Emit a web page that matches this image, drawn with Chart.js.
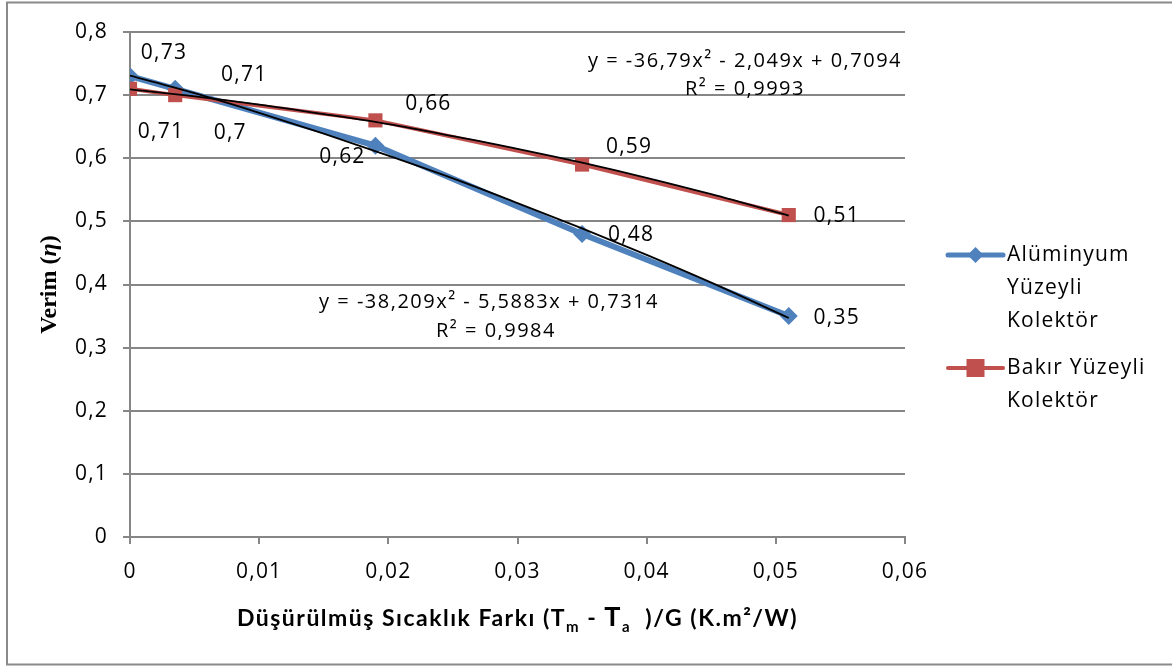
<!DOCTYPE html>
<html>
<head>
<meta charset="utf-8">
<script src="https://cdn.jsdelivr.net/npm/chart.js@4.4.1/dist/chart.umd.min.js"></script>
<style>
  html, body { margin: 0; padding: 0; background: #ffffff; }
  #wrap { width: 1172px; height: 666px; position: relative; }
  canvas { display: block; }
</style>
</head>
<body>
<div id="wrap"><canvas id="c" width="1172" height="666"></canvas></div>
<script>
// ---- data ----
const xValues = [0, 0.0035, 0.019, 0.035, 0.051];
const aluminyumY = [0.73, 0.71, 0.62, 0.48, 0.35];
const bakirY = [0.71, 0.70, 0.66, 0.59, 0.51];

const trendX = [0, 0.005, 0.01, 0.015, 0.02, 0.025, 0.03, 0.035, 0.04, 0.045, 0.051];
const aluminyumTrendY = [0.731, 0.703, 0.672, 0.639, 0.604, 0.568, 0.529, 0.489, 0.447, 0.403, 0.347];
const bakirTrendY = [0.709, 0.698, 0.685, 0.670, 0.654, 0.635, 0.615, 0.593, 0.569, 0.543, 0.509];

const seriesNames = [["Alüminyum", "Yüzeyli", "Kolektör"], ["Bakır Yüzeyli", "Kolektör"]];
const aluminyumEquation = ["y = -38,209x² - 5,5883x + 0,7314", "R² = 0,9984"];
const bakirEquation = ["y = -36,79x² - 2,049x + 0,7094", "R² = 0,9993"];

const xTickMin = 0, xTickMax = 0.06, xTickStep = 0.01;
const yTickMin = 0, yTickMax = 0.8, yTickStep = 0.1;

// ---- styling ----
const BLUE = '#4F81BD';
const RED = '#C0504D';
const GRID = '#868686';
const FONT = '"Open Sans", Lato, sans-serif';
const TFONT = 'Lato, "Open Sans", sans-serif';
const SPACING = '1.2px';
const fmt = v => String(Math.round(v * 1000) / 1000).replace('.', ',');

// label offsets (px) relative to each point, per series
const alLabelOffsets = [[33, -23], [68, -14], [-34, 11], [48, 1], [47, 2]];
const cuLabelOffsets = [[30, 43], [54, 38], [52, -16], [46, -18], [47, 1]];

const toPts = (xs, ys) => xs.map((x, i) => ({ x: x, y: ys[i] }));

const decorPlugin = {
  id: 'decor',
  beforeDraw(chart) {
    const ctx = chart.ctx;
    ctx.letterSpacing = SPACING;
    ctx.save();
    ctx.strokeStyle = '#8a8a8a';
    ctx.lineWidth = 2;
    ctx.strokeRect(7, 2.5, 1200, 662);
    ctx.restore();
  },
  afterDraw(chart) {
    const ctx = chart.ctx;
    const xs = chart.scales.x, ys = chart.scales.y;
    const area = chart.chartArea;
    ctx.save();
    ctx.fillStyle = '#000';
    ctx.textAlign = 'center';
    ctx.textBaseline = 'middle';
    ctx.letterSpacing = SPACING;
    ctx.font = '21px ' + FONT;
    // data labels
    const drawLabels = (ysArr, offs) => {
      ysArr.forEach((v, i) => {
        const px = xs.getPixelForValue(xValues[i]);
        const py = ys.getPixelForValue(v);
        ctx.fillText(fmt(v), px + offs[i][0] + 1, py + offs[i][1]);
      });
    };
    drawLabels(aluminyumY, alLabelOffsets);
    drawLabels(bakirY, cuLabelOffsets);

    // trendline equations
    ctx.font = '20px ' + FONT;
    ctx.letterSpacing = '1.5px';
    ctx.fillText(bakirEquation[0], 745, 61);
    ctx.fillText(bakirEquation[1], 745, 89);
    ctx.fillText(aluminyumEquation[0], 489, 302);
    ctx.fillText(aluminyumEquation[1], 496, 331);

    // legend
    const legendX = 948, legendLineW = 55, textX = 1007;
    ctx.textAlign = 'left';
    ctx.letterSpacing = SPACING;
    ctx.font = '21px ' + FONT;
    // series 1
    let ly = 255;
    ctx.strokeStyle = BLUE; ctx.lineWidth = 5; ctx.lineCap = 'round';
    ctx.beginPath(); ctx.moveTo(legendX, ly); ctx.lineTo(legendX + legendLineW, ly); ctx.stroke();
    ctx.fillStyle = BLUE;
    ctx.beginPath();
    const cx = legendX + legendLineW / 2;
    ctx.moveTo(cx, ly - 8); ctx.lineTo(cx + 8, ly); ctx.lineTo(cx, ly + 8); ctx.lineTo(cx - 8, ly);
    ctx.closePath(); ctx.fill();
    ctx.fillStyle = '#000';
    seriesNames[0].forEach((t, i) => ctx.fillText(t, textX, ly + i * 33));
    // series 2
    ly = 368;
    ctx.strokeStyle = RED; ctx.lineWidth = 4;
    ctx.beginPath(); ctx.moveTo(legendX, ly); ctx.lineTo(legendX + legendLineW, ly); ctx.stroke();
    ctx.fillStyle = RED;
    ctx.fillRect(cx - 9, ly - 9, 18, 18);
    ctx.fillStyle = '#000';
    seriesNames[1].forEach((t, i) => ctx.fillText(t, textX, ly + i * 33));

    // y axis title (rotated)
    ctx.save();
    ctx.letterSpacing = '0px';
    ctx.translate(50, (area.top + area.bottom) / 2);
    ctx.rotate(-Math.PI / 2);
    const parts = [
      { t: 'Verim (', f: 'bold 24px "Liberation Serif", "DejaVu Serif", serif' },
      { t: 'η', f: 'italic bold 24px "Liberation Serif", "DejaVu Serif", serif' },
      { t: ')', f: 'bold 24px "Liberation Serif", "DejaVu Serif", serif' }
    ];
    let total = 0;
    parts.forEach(p => { ctx.font = p.f; p.w = ctx.measureText(p.t).width; total += p.w; });
    let x0 = -total / 2;
    ctx.textAlign = 'left';
    parts.forEach(p => { ctx.font = p.f; ctx.fillText(p.t, x0, 0); x0 += p.w; });
    ctx.restore();

    // x axis title with subscripts
    const base = 626;
    ctx.letterSpacing = '1.5px';
    const segs = [
      { t: 'Düşürülmüş Sıcaklık Farkı (T', f: 'bold 23px ' + TFONT, dy: 0 },
      { t: 'm', f: 'bold 15px ' + TFONT, dy: 6 },
      { t: ' - ', f: 'bold 23px ' + TFONT, dy: 0 },
      { t: 'T', f: 'bold 27px ' + TFONT, dy: 0 },
      { t: 'a', f: 'bold 15px ' + TFONT, dy: 6 },
      { t: '  )/G (K.m²/W)', f: 'bold 23px ' + TFONT, dy: 0 }
    ];
    let tw = 0;
    segs.forEach(s => { ctx.font = s.f; s.w = ctx.measureText(s.t).width; tw += s.w; });
    let sx = (area.left + area.right) / 2 - tw / 2;
    ctx.textBaseline = 'alphabetic';
    segs.forEach(s => { ctx.font = s.f; ctx.fillText(s.t, sx, base + s.dy); sx += s.w; });
    ctx.restore();
  }
};

new Chart(document.getElementById('c'), {
  type: 'scatter',
  data: {
    datasets: [
      {
        label: 'Alüminyum trend', data: toPts(trendX, aluminyumTrendY), showLine: true,
        borderColor: '#000', borderWidth: 1.8, pointRadius: 0, cubicInterpolationMode: 'monotone', order: 0
      },
      {
        label: 'Bakır trend', data: toPts(trendX, bakirTrendY), showLine: true,
        borderColor: '#000', borderWidth: 1.8, pointRadius: 0, cubicInterpolationMode: 'monotone', order: 0
      },
      {
        label: seriesNames[1].join(' '), data: toPts(xValues, bakirY), showLine: true,
        borderColor: RED, borderWidth: 4, backgroundColor: RED, pointBackgroundColor: RED, pointBorderColor: RED,
        pointStyle: 'rect', pointRadius: 10, pointBorderWidth: 0, tension: 0, order: 1
      },
      {
        label: seriesNames[0].join(' '), data: toPts(xValues, aluminyumY), showLine: true,
        borderColor: BLUE, borderWidth: 6, backgroundColor: BLUE, pointBackgroundColor: BLUE, pointBorderColor: BLUE,
        pointStyle: 'rectRot', pointRadius: 9, pointBorderWidth: 0, tension: 0, order: 2
      }
    ]
  },
  options: {
    responsive: false,
    animation: false,
    devicePixelRatio: 1,
    layout: { padding: { left: 0, right: 267, top: 32, bottom: 0 } },
    plugins: { legend: { display: false }, tooltip: { enabled: false } },
    scales: {
      x: {
        type: 'linear', min: xTickMin, max: xTickMax,
        afterFit: s => { s.height = 129; },
        ticks: { stepSize: xTickStep, padding: 15, color: '#000', font: { family: FONT, size: 21 }, callback: v => fmt(v) },
        grid: { drawOnChartArea: false, drawTicks: true, tickLength: 7, color: GRID, lineWidth: 2 },
        border: { display: true, color: GRID, width: 2 }
      },
      y: {
        type: 'linear', min: yTickMin, max: yTickMax,
        afterFit: s => { s.width = 130; },
        ticks: { stepSize: yTickStep, padding: 15, color: '#000', font: { family: FONT, size: 21 }, callback: v => fmt(v) },
        grid: { drawOnChartArea: true, drawTicks: true, tickLength: 7, color: GRID, lineWidth: 2 },
        border: { display: true, color: GRID, width: 2 }
      }
    }
  },
  plugins: [decorPlugin]
});
</script>
</body>
</html>
